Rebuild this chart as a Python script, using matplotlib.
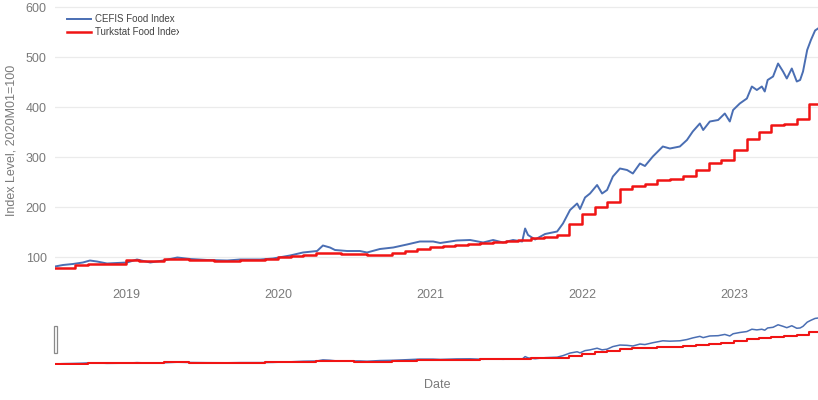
import matplotlib
matplotlib.use('Agg')
import matplotlib.pyplot as plt
import matplotlib.dates as mdates
from matplotlib.patches import Rectangle
from matplotlib.transforms import Bbox
import pandas as pd

plt.rcParams['font.family'] = ['Liberation Sans', 'DejaVu Sans']

# CEFIS food index (roughly every couple of weeks)
cefis_dates = [
    '2018-07-14', '2018-08-02', '2018-08-26', '2018-09-19', '2018-10-06', '2018-10-23',
    '2018-11-16', '2018-12-10', '2019-01-03', '2019-01-27', '2019-02-28', '2019-03-31',
    '2019-05-04', '2019-06-04', '2019-07-15', '2019-09-01', '2019-10-02', '2019-11-19',
    '2019-12-20', '2020-01-30', '2020-03-01', '2020-04-04', '2020-04-18', '2020-05-05',
    '2020-05-17', '2020-06-15', '2020-07-16', '2020-08-02', '2020-09-02', '2020-10-04',
    '2020-11-06', '2020-12-07', '2021-01-08', '2021-01-25', '2021-03-06', '2021-04-07',
    '2021-05-08', '2021-06-01', '2021-06-25', '2021-07-19', '2021-08-10', '2021-08-17',
    '2021-08-24', '2021-09-10', '2021-10-04', '2021-11-02', '2021-11-16', '2021-12-03',
    '2021-12-20', '2021-12-27', '2022-01-08', '2022-01-20', '2022-02-06', '2022-02-18',
    '2022-03-02', '2022-03-16', '2022-04-02', '2022-04-19', '2022-05-03', '2022-05-20',
    '2022-06-01', '2022-06-20', '2022-07-14', '2022-07-31', '2022-08-24', '2022-09-10',
    '2022-09-24', '2022-10-11', '2022-10-19', '2022-11-04', '2022-11-24', '2022-12-10',
    '2022-12-22', '2022-12-30', '2023-01-15', '2023-02-01', '2023-02-13', '2023-02-25',
    '2023-03-09', '2023-03-16', '2023-03-23', '2023-04-05', '2023-04-17', '2023-04-29',
    '2023-05-08', '2023-05-20', '2023-06-01', '2023-06-09', '2023-06-16', '2023-06-26',
    '2023-07-05', '2023-07-15', '2023-07-22',
]
cefis_values = [
    81, 84, 86, 89, 93, 91,
    87, 88, 89, 95, 89, 93,
    99, 96, 94, 93, 95, 95,
    97, 103, 109, 112, 123, 119,
    114, 112, 112, 109, 116, 119,
    125, 131, 131, 128, 133, 134,
    129, 134, 129, 134, 131, 157,
    144, 135, 146, 151, 167, 194,
    207, 196, 219, 227, 244, 227,
    234, 261, 277, 274, 267, 287,
    282, 301, 321, 317, 321, 334,
    351, 367, 354, 371, 374, 387,
    371, 394, 407, 417, 441, 434,
    441, 431, 454, 461, 487, 471,
    457, 477, 451, 454, 471, 514,
    534, 553, 557,
]

# Turkstat food index, monthly
turkstat_months = [
    '2018-07-01', '2018-08-01', '2018-09-01', '2018-10-01', '2018-11-01', '2018-12-01',
    '2019-01-01', '2019-02-01', '2019-03-01', '2019-04-01', '2019-05-01', '2019-06-01',
    '2019-07-01', '2019-08-01', '2019-09-01', '2019-10-01', '2019-11-01', '2019-12-01',
    '2020-01-01', '2020-02-01', '2020-03-01', '2020-04-01', '2020-05-01', '2020-06-01',
    '2020-07-01', '2020-08-01', '2020-09-01', '2020-10-01', '2020-11-01', '2020-12-01',
    '2021-01-01', '2021-02-01', '2021-03-01', '2021-04-01', '2021-05-01', '2021-06-01',
    '2021-07-01', '2021-08-01', '2021-09-01', '2021-10-01', '2021-11-01', '2021-12-01',
    '2022-01-01', '2022-02-01', '2022-03-01', '2022-04-01', '2022-05-01', '2022-06-01',
    '2022-07-01', '2022-08-01', '2022-09-01', '2022-10-01', '2022-11-01', '2022-12-01',
    '2023-01-01', '2023-02-01', '2023-03-01', '2023-04-01', '2023-05-01', '2023-06-01',
    '2023-07-01',
]
turkstat_values = [
    79, 79, 84, 87, 87, 87,
    94, 93, 93, 97, 97, 95,
    95, 93, 93, 95, 95, 96,
    100, 103, 105, 109, 109, 107,
    106, 105, 105, 109, 113, 117,
    120, 122, 124, 127, 129, 130,
    132, 135, 138, 141, 144, 167,
    186, 200, 211, 237, 243, 247,
    254, 257, 262, 274, 289, 295,
    314, 337, 351, 364, 367, 377,
    407,
]

blue = '#4a6eb3'
red = '#f01414'
grey = '#7a7a7a'

cefis_x = pd.to_datetime(cefis_dates)
turk_x = pd.to_datetime(turkstat_months + [cefis_dates[-1]])
turk_y = turkstat_values + [turkstat_values[-1]]

fig = plt.figure(figsize=(8.18, 4.0), dpi=100)

# main chart
ax = fig.add_axes([55/818, 1-272/400, 763/818, 267/400])
ax.plot(cefis_x, cefis_values, color=blue, lw=1.4, label='CEFIS Food Index')
ax.step(turk_x, turk_y, where='post', color=red, lw=1.8, label='Turkstat Food Index')
ax.set_xlim(cefis_x[0], cefis_x[-1])
ax.set_ylim(70, 604)
ax.set_yticks([100, 200, 300, 400, 500, 600])
ax.grid(axis='y', color='#ebebeb', lw=0.9)
ax.set_axisbelow(True)
for s in ax.spines.values():
    s.set_visible(False)
ax.xaxis.set_major_locator(mdates.YearLocator())
ax.xaxis.set_major_formatter(mdates.DateFormatter('%Y'))
ax.tick_params(length=0, labelsize=9, colors=grey)
ax.tick_params(axis='x', pad=12)
ax.tick_params(axis='y', pad=6)

fig.text(12/818, 1-140/400, 'Index Level, 2020M01=100', rotation=90,
         ha='center', va='center', fontsize=9, color=grey)

leg = ax.legend(loc='upper left', bbox_to_anchor=(67/818, 1-14/400),
                bbox_transform=fig.transFigure, frameon=False, fontsize=7.0,
                handlelength=2.5, handletextpad=0.4, labelspacing=0.35,
                borderpad=0, borderaxespad=0, labelcolor='#444444')
clip = Bbox.from_extents(0, 0, 179, 400)
for t in leg.get_texts():
    t.set_clip_box(clip)
    t.set_clip_on(True)

# range slider
sl = fig.add_axes([55/818, 1-365/400, 763/818, 51.5/400])
sl.plot(cefis_x, cefis_values, color=blue, lw=1.1)
sl.step(turk_x, turk_y, where='post', color=red, lw=1.5)
sl.set_xlim(cefis_x[0], cefis_x[-1])
sl.set_ylim(70, 604)
sl.axis('off')
fig.add_artist(Rectangle((53.5/818, 1-353/400), 3.5/818, 27/400,
                         transform=fig.transFigure, facecolor='white',
                         edgecolor='#8a8a8a', lw=0.9))

fig.text(437/818, 1-385/400, 'Date', ha='center', va='center', fontsize=9, color=grey)

fig.savefig('out.png', dpi=100)
